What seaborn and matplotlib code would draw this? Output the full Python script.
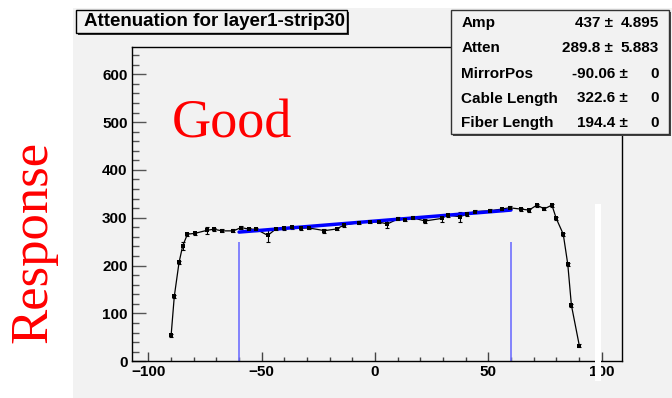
import numpy as np
import pandas as pd
import matplotlib
matplotlib.use("Agg")
import matplotlib.pyplot as plt
import seaborn as sns
from matplotlib.patches import Rectangle
from matplotlib.ticker import MultipleLocator

# ---------------- data ----------------
position = [-90.0, -88.6, -86.5, -84.9, -82.8, -79.3, -74.3, -71.2, -67.5, -62.5,
            -59.1, -55.6, -52.5, -47.3, -43.8, -40.3, -36.8, -32.6, -29.3, -22.3,
            -16.9, -13.8, -7.1, -2.2, 1.6, 5.5, 10.1, 13.3, 16.7, 22.1,
            29.4, 32.1, 37.5, 40.6, 44.2, 50.7, 55.9, 59.4, 64.4, 68.0,
            71.5, 74.7, 78.1, 80.0, 83.1, 85.1, 86.7, 90.2]
response = [54, 135.5, 206.5, 241, 265.5, 267.5, 273.5, 276, 272.5, 272.5,
            279.5, 276, 276, 263, 276.5, 278, 280, 278, 278.7, 273,
            276.5, 284.5, 290, 291, 291, 287, 297.5, 296, 299.6, 293.2,
            298.5, 305.5, 302, 307.5, 313, 314.5, 318, 320.8, 318, 316,
            326.4, 318.4, 326.4, 298.5, 265.6, 202.5, 117, 32.4]
resp_err = [3, 3, 4, 9, 3, 3, 8, 3, 3, 3,
            3, 3, 3, 14, 3, 3, 3, 3, 3, 4,
            3, 3, 3, 3, 3, 9, 3, 3, 3, 4,
            8, 3, 11, 3, 3, 3, 3, 3, 3, 3,
            3, 3, 3, 3, 3, 3, 3, 3]

fit_x = [-60.0, 60.0]
fit_y = [270.0, 316.0]
mirror_lines = [-60.0, 60.0]
mirror_height = 250.0

title = "Attenuation for layer1-strip30"
stat_names = ["Amp", "Atten", "MirrorPos", "Cable Length", "Fiber Length"]
stat_values = ["437", "289.8", "-90.06", "322.6", "194.4"]
stat_errors = ["4.895", "5.883", "0", "0", "0"]
x_ticks = [-100, -50, 0, 50, 100]
y_ticks = [0, 100, 200, 300, 400, 500, 600]

# ---------------- style ----------------
sns.set_theme(style="ticks")
plt.rcParams['font.family'] = ['Liberation Sans', 'DejaVu Sans']

W, H = 672, 398
BG = '#f2f2f2'


def fx(px):
    return px / W


def fy(py):
    return 1 - py / H


fig = plt.figure(figsize=(6.72, 3.98), dpi=100)
fig.patch.set_facecolor('white')
fig.add_artist(Rectangle((fx(73), 0), 1 - fx(73), fy(8), transform=fig.transFigure,
                         facecolor=BG, edgecolor='none', zorder=-5))

ax = fig.add_axes([fx(131.7), fy(361.2), fx(621.7) - fx(131.7), fy(46.5) - fy(361.2)])
ax.set_facecolor(BG)

df = pd.DataFrame({"pos": position, "resp": response})
fit_df = pd.DataFrame({"pos": fit_x, "resp": fit_y})

ax.vlines(mirror_lines, 0, mirror_height, colors='#7070ff', linewidth=1.2, zorder=1)
sns.lineplot(data=df, x="pos", y="resp", color='black', linewidth=0.9, sort=False,
             ax=ax, zorder=2)
ax.errorbar(position, response, yerr=resp_err, fmt='none', ecolor='black',
            elinewidth=0.8, capsize=1.5, capthick=0.8, zorder=2)
sns.lineplot(data=fit_df, x="pos", y="resp", color='#0000ff', linewidth=2.5,
             ax=ax, zorder=3)
sns.scatterplot(data=df, x="pos", y="resp", marker='s', s=10, color='black',
                edgecolor='black', linewidth=0, ax=ax, zorder=4)

ax.set_xlim(-107.4, 108.9)
ax.set_ylim(0, 658)
ax.set_xticks(x_ticks)
ax.set_yticks(y_ticks)
ax.xaxis.set_minor_locator(MultipleLocator(10))
ax.yaxis.set_minor_locator(MultipleLocator(20))
ax.set_xlabel("")
ax.set_ylabel("")
for s in ax.spines.values():
    s.set_color('black')
    s.set_linewidth(1.0)
ax.tick_params(axis='x', which='major', direction='in', length=6.5, width=1,
               color='#444444', pad=3, labelsize=11)
ax.tick_params(axis='x', which='minor', direction='in', length=3.2, width=1,
               color='#444444')
ax.tick_params(axis='y', which='major', direction='in', length=10, width=1,
               color='#555555', pad=3, labelsize=11)
ax.tick_params(axis='y', which='minor', direction='in', length=5, width=1,
               color='#555555')
for lab in ax.get_xticklabels() + ax.get_yticklabels():
    lab.set_fontweight('bold')
    lab.set_color('black')

# ---------------- title box ----------------
fig.add_artist(Rectangle((fx(78), fy(35)), fx(347) - fx(76), fy(10) - fy(33),
                         transform=fig.transFigure, facecolor='#333333',
                         edgecolor='none', zorder=5))
fig.add_artist(Rectangle((fx(76), fy(33)), fx(347) - fx(76), fy(10) - fy(33),
                         transform=fig.transFigure, facecolor=BG,
                         edgecolor='black', linewidth=1, zorder=6))
fig.text(fx(214), fy(21.5), title, ha='center', va='center', fontsize=13.5,
         fontweight='bold', color='black', zorder=7)

# ---------------- stats box ----------------
bx0, bx1, by0, by1 = 451, 669, 10, 134
fig.add_artist(Rectangle((fx(bx0 + 2), fy(by1 + 2)), fx(bx1) - fx(bx0), fy(by0) - fy(by1),
                         transform=fig.transFigure, facecolor='#444444',
                         edgecolor='none', zorder=5))
fig.add_artist(Rectangle((fx(bx0), fy(by1)), fx(bx1) - fx(bx0), fy(by0) - fy(by1),
                         transform=fig.transFigure, facecolor=BG,
                         edgecolor='#333333', linewidth=1, zorder=6))
row_y = [22.7, 48.5, 74, 98.5, 123.3]
for name, val, err, ry in zip(stat_names, stat_values, stat_errors, row_y):
    fig.text(fx(461.5), fy(ry), name, ha='left', va='center', fontsize=11,
             fontweight='bold', color='black', zorder=7)
    pm_end = 613 if err != "0" else 628
    fig.text(fx(pm_end), fy(ry), val + " \u00b1", ha='right', va='center',
             fontsize=11, fontweight='bold', color='black', zorder=7)
    fig.text(fx(659), fy(ry), err, ha='right', va='center', fontsize=11,
             fontweight='bold', color='black', zorder=7)

# ---------------- overlays ----------------
fig.text(fx(231.5), fy(137.5), "Good", ha='center', va='baseline', color='red',
         family=['Liberation Serif', 'DejaVu Serif'], fontsize=39, zorder=8)
fig.text(fx(33), fy(241.5), "Response", ha='center', va='center', rotation=90,
         color='red', family=['Liberation Serif', 'DejaVu Serif'], fontsize=38, zorder=8)
fig.add_artist(Rectangle((fx(595), fy(381)), fx(601) - fx(595), fy(204) - fy(381),
                         transform=fig.transFigure, facecolor='white',
                         edgecolor='none', zorder=9))

fig.savefig("out.png", dpi=100, facecolor=fig.get_facecolor())
